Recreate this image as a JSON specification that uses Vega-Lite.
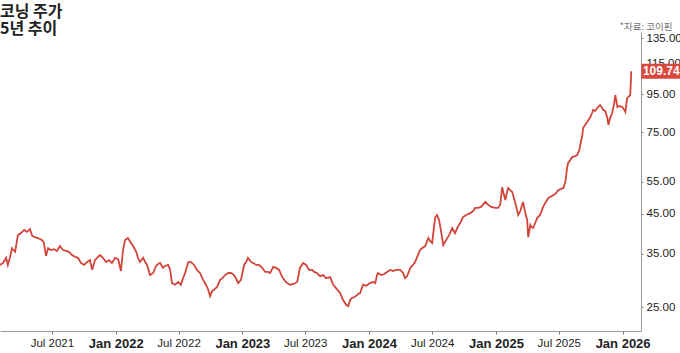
{
  "$schema": "https://vega.github.io/schema/vega-lite/v6.json",
  "width": 641,
  "height": 299,
  "autosize": {"type": "none"},
  "padding": {"left": 0, "top": 32, "right": 39, "bottom": 22},
  "background": "white",
  "config": {"view": {"stroke": null}, "font": "Liberation Sans"},
  "title": {
    "text": ["코닝 주가", "5년 추이"],
    "anchor": "start",
    "frame": "group",
    "font": "Noto Sans CJK KR",
    "fontSize": 16,
    "lineHeight": 17.5,
    "fontWeight": "bold",
    "color": "#222222",
    "baseline": "bottom",
    "offset": -32
  },
  "datasets": {
    "price": [
      {"date": "2021-02-01", "close": 32.6},
      {"date": "2021-02-10", "close": 33.0},
      {"date": "2021-02-19", "close": 34.1},
      {"date": "2021-02-24", "close": 32.6},
      {"date": "2021-03-02", "close": 34.1},
      {"date": "2021-03-08", "close": 36.2},
      {"date": "2021-03-17", "close": 35.4},
      {"date": "2021-03-25", "close": 39.3},
      {"date": "2021-04-03", "close": 39.8},
      {"date": "2021-04-12", "close": 40.6},
      {"date": "2021-04-20", "close": 40.1},
      {"date": "2021-04-29", "close": 40.8},
      {"date": "2021-05-05", "close": 39.1},
      {"date": "2021-05-13", "close": 38.8},
      {"date": "2021-05-22", "close": 38.6},
      {"date": "2021-06-03", "close": 38.1},
      {"date": "2021-06-08", "close": 37.4},
      {"date": "2021-06-14", "close": 34.5},
      {"date": "2021-06-20", "close": 36.2},
      {"date": "2021-06-28", "close": 35.8},
      {"date": "2021-07-07", "close": 36.0},
      {"date": "2021-07-16", "close": 35.6},
      {"date": "2021-07-24", "close": 36.7},
      {"date": "2021-08-02", "close": 35.8},
      {"date": "2021-08-11", "close": 35.6},
      {"date": "2021-08-19", "close": 35.4},
      {"date": "2021-08-28", "close": 34.7},
      {"date": "2021-09-06", "close": 34.3},
      {"date": "2021-09-14", "close": 34.1},
      {"date": "2021-09-23", "close": 33.0},
      {"date": "2021-10-02", "close": 32.6},
      {"date": "2021-10-10", "close": 33.2},
      {"date": "2021-10-19", "close": 33.6},
      {"date": "2021-10-25", "close": 31.6},
      {"date": "2021-11-02", "close": 33.6},
      {"date": "2021-11-11", "close": 34.3},
      {"date": "2021-11-17", "close": 34.7},
      {"date": "2021-11-25", "close": 34.1},
      {"date": "2021-12-04", "close": 33.2},
      {"date": "2021-12-13", "close": 33.6},
      {"date": "2021-12-21", "close": 33.0},
      {"date": "2021-12-30", "close": 34.1},
      {"date": "2022-01-08", "close": 33.8},
      {"date": "2022-01-16", "close": 31.4},
      {"date": "2022-01-22", "close": 35.8},
      {"date": "2022-01-28", "close": 38.1},
      {"date": "2022-02-05", "close": 38.6},
      {"date": "2022-02-14", "close": 37.4},
      {"date": "2022-02-20", "close": 36.7},
      {"date": "2022-03-01", "close": 35.4},
      {"date": "2022-03-06", "close": 34.1},
      {"date": "2022-03-12", "close": 33.2},
      {"date": "2022-03-21", "close": 34.1},
      {"date": "2022-03-27", "close": 33.2},
      {"date": "2022-04-01", "close": 32.6},
      {"date": "2022-04-10", "close": 30.6},
      {"date": "2022-04-19", "close": 31.0},
      {"date": "2022-04-27", "close": 32.4},
      {"date": "2022-05-03", "close": 32.8},
      {"date": "2022-05-09", "close": 33.0},
      {"date": "2022-05-17", "close": 32.0},
      {"date": "2022-05-23", "close": 32.4},
      {"date": "2022-06-01", "close": 32.6},
      {"date": "2022-06-07", "close": 31.6},
      {"date": "2022-06-12", "close": 29.1},
      {"date": "2022-06-21", "close": 28.8},
      {"date": "2022-06-30", "close": 29.3},
      {"date": "2022-07-08", "close": 28.8},
      {"date": "2022-07-14", "close": 30.0},
      {"date": "2022-07-20", "close": 31.0},
      {"date": "2022-07-29", "close": 33.2},
      {"date": "2022-08-06", "close": 33.2},
      {"date": "2022-08-15", "close": 32.6},
      {"date": "2022-08-23", "close": 31.6},
      {"date": "2022-09-01", "close": 31.0},
      {"date": "2022-09-10", "close": 29.7},
      {"date": "2022-09-18", "close": 28.8},
      {"date": "2022-09-24", "close": 28.0},
      {"date": "2022-09-30", "close": 26.8},
      {"date": "2022-10-06", "close": 27.7},
      {"date": "2022-10-11", "close": 27.9},
      {"date": "2022-10-20", "close": 28.4},
      {"date": "2022-10-29", "close": 29.7},
      {"date": "2022-11-04", "close": 30.0},
      {"date": "2022-11-12", "close": 30.6},
      {"date": "2022-11-21", "close": 31.0},
      {"date": "2022-11-29", "close": 31.0},
      {"date": "2022-12-08", "close": 30.6},
      {"date": "2022-12-14", "close": 29.9},
      {"date": "2022-12-20", "close": 29.1},
      {"date": "2022-12-28", "close": 29.7},
      {"date": "2023-01-06", "close": 32.6},
      {"date": "2023-01-12", "close": 33.2},
      {"date": "2023-01-17", "close": 34.1},
      {"date": "2023-01-26", "close": 33.2},
      {"date": "2023-02-01", "close": 33.0},
      {"date": "2023-02-10", "close": 32.6},
      {"date": "2023-02-18", "close": 32.6},
      {"date": "2023-02-27", "close": 32.0},
      {"date": "2023-03-08", "close": 31.2},
      {"date": "2023-03-16", "close": 31.2},
      {"date": "2023-03-22", "close": 31.0},
      {"date": "2023-03-31", "close": 32.2},
      {"date": "2023-04-08", "close": 32.0},
      {"date": "2023-04-17", "close": 31.6},
      {"date": "2023-04-26", "close": 30.2},
      {"date": "2023-05-04", "close": 29.5},
      {"date": "2023-05-10", "close": 29.1},
      {"date": "2023-05-19", "close": 28.8},
      {"date": "2023-05-27", "close": 28.9},
      {"date": "2023-06-08", "close": 29.3},
      {"date": "2023-06-16", "close": 32.0},
      {"date": "2023-06-25", "close": 33.0},
      {"date": "2023-07-04", "close": 32.6},
      {"date": "2023-07-12", "close": 31.6},
      {"date": "2023-07-21", "close": 31.6},
      {"date": "2023-07-27", "close": 31.2},
      {"date": "2023-08-04", "close": 31.0},
      {"date": "2023-08-13", "close": 30.4},
      {"date": "2023-08-22", "close": 30.6},
      {"date": "2023-08-30", "close": 30.0},
      {"date": "2023-09-11", "close": 30.2},
      {"date": "2023-09-20", "close": 28.8},
      {"date": "2023-09-28", "close": 28.2},
      {"date": "2023-10-10", "close": 27.3},
      {"date": "2023-10-18", "close": 26.2},
      {"date": "2023-10-27", "close": 25.4},
      {"date": "2023-11-02", "close": 25.2},
      {"date": "2023-11-08", "close": 26.2},
      {"date": "2023-11-13", "close": 26.5},
      {"date": "2023-11-22", "close": 26.7},
      {"date": "2023-12-01", "close": 27.2},
      {"date": "2023-12-06", "close": 27.3},
      {"date": "2023-12-15", "close": 28.8},
      {"date": "2023-12-24", "close": 28.6},
      {"date": "2024-01-04", "close": 29.1},
      {"date": "2024-01-13", "close": 29.3},
      {"date": "2024-01-19", "close": 29.1},
      {"date": "2024-01-24", "close": 30.6},
      {"date": "2024-01-27", "close": 31.0},
      {"date": "2024-02-05", "close": 30.6},
      {"date": "2024-02-14", "close": 30.8},
      {"date": "2024-02-22", "close": 31.2},
      {"date": "2024-03-02", "close": 31.6},
      {"date": "2024-03-11", "close": 31.4},
      {"date": "2024-03-19", "close": 31.6},
      {"date": "2024-03-31", "close": 31.6},
      {"date": "2024-04-08", "close": 31.0},
      {"date": "2024-04-14", "close": 30.0},
      {"date": "2024-04-20", "close": 30.4},
      {"date": "2024-04-29", "close": 32.0},
      {"date": "2024-05-04", "close": 32.4},
      {"date": "2024-05-13", "close": 33.2},
      {"date": "2024-05-22", "close": 34.9},
      {"date": "2024-05-27", "close": 35.8},
      {"date": "2024-06-02", "close": 36.2},
      {"date": "2024-06-11", "close": 36.7},
      {"date": "2024-06-20", "close": 38.6},
      {"date": "2024-06-25", "close": 37.9},
      {"date": "2024-07-01", "close": 37.4},
      {"date": "2024-07-07", "close": 41.9},
      {"date": "2024-07-10", "close": 44.0},
      {"date": "2024-07-15", "close": 44.6},
      {"date": "2024-07-21", "close": 43.2},
      {"date": "2024-07-27", "close": 40.1},
      {"date": "2024-08-02", "close": 36.9},
      {"date": "2024-08-10", "close": 38.1},
      {"date": "2024-08-19", "close": 39.3},
      {"date": "2024-08-28", "close": 41.1},
      {"date": "2024-09-05", "close": 39.8},
      {"date": "2024-09-14", "close": 41.6},
      {"date": "2024-09-20", "close": 42.4},
      {"date": "2024-09-28", "close": 44.0},
      {"date": "2024-10-07", "close": 44.6},
      {"date": "2024-10-19", "close": 45.1},
      {"date": "2024-10-27", "close": 45.7},
      {"date": "2024-11-02", "close": 46.6},
      {"date": "2024-11-11", "close": 46.6},
      {"date": "2024-11-19", "close": 46.9},
      {"date": "2024-12-01", "close": 48.4},
      {"date": "2024-12-10", "close": 47.5},
      {"date": "2024-12-18", "close": 46.9},
      {"date": "2024-12-30", "close": 46.6},
      {"date": "2025-01-07", "close": 46.6},
      {"date": "2025-01-13", "close": 47.5},
      {"date": "2025-01-19", "close": 53.1},
      {"date": "2025-01-22", "close": 51.5},
      {"date": "2025-01-28", "close": 49.0},
      {"date": "2025-02-02", "close": 51.5},
      {"date": "2025-02-05", "close": 52.8},
      {"date": "2025-02-11", "close": 52.1},
      {"date": "2025-02-17", "close": 51.5},
      {"date": "2025-02-25", "close": 48.4},
      {"date": "2025-03-06", "close": 44.6},
      {"date": "2025-03-12", "close": 45.7},
      {"date": "2025-03-20", "close": 48.4},
      {"date": "2025-03-26", "close": 45.4},
      {"date": "2025-04-01", "close": 43.2},
      {"date": "2025-04-04", "close": 38.8},
      {"date": "2025-04-10", "close": 41.9},
      {"date": "2025-04-13", "close": 41.4},
      {"date": "2025-04-18", "close": 41.1},
      {"date": "2025-04-24", "close": 42.4},
      {"date": "2025-04-30", "close": 43.8},
      {"date": "2025-05-08", "close": 44.6},
      {"date": "2025-05-17", "close": 46.9},
      {"date": "2025-05-23", "close": 48.1},
      {"date": "2025-06-01", "close": 49.6},
      {"date": "2025-06-06", "close": 49.9},
      {"date": "2025-06-15", "close": 50.5},
      {"date": "2025-06-24", "close": 51.2},
      {"date": "2025-06-29", "close": 52.1},
      {"date": "2025-07-08", "close": 52.5},
      {"date": "2025-07-14", "close": 52.8},
      {"date": "2025-07-20", "close": 54.8},
      {"date": "2025-07-25", "close": 59.9},
      {"date": "2025-07-28", "close": 61.8},
      {"date": "2025-08-03", "close": 62.9},
      {"date": "2025-08-09", "close": 64.1},
      {"date": "2025-08-17", "close": 64.5},
      {"date": "2025-08-23", "close": 64.9},
      {"date": "2025-08-29", "close": 67.0},
      {"date": "2025-09-01", "close": 69.1},
      {"date": "2025-09-07", "close": 73.6},
      {"date": "2025-09-09", "close": 76.9},
      {"date": "2025-09-15", "close": 78.4},
      {"date": "2025-09-21", "close": 79.9},
      {"date": "2025-09-30", "close": 82.4},
      {"date": "2025-10-05", "close": 84.5},
      {"date": "2025-10-08", "close": 86.1},
      {"date": "2025-10-14", "close": 85.6},
      {"date": "2025-10-20", "close": 87.2},
      {"date": "2025-10-28", "close": 88.8},
      {"date": "2025-11-03", "close": 87.2},
      {"date": "2025-11-06", "close": 86.1},
      {"date": "2025-11-12", "close": 85.6},
      {"date": "2025-11-18", "close": 81.9},
      {"date": "2025-11-21", "close": 78.4},
      {"date": "2025-11-26", "close": 81.9},
      {"date": "2025-12-02", "close": 84.5},
      {"date": "2025-12-08", "close": 90.0},
      {"date": "2025-12-11", "close": 94.6},
      {"date": "2025-12-17", "close": 87.7},
      {"date": "2025-12-22", "close": 88.3},
      {"date": "2025-12-31", "close": 87.7},
      {"date": "2026-01-06", "close": 86.1},
      {"date": "2026-01-09", "close": 85.0},
      {"date": "2026-01-14", "close": 92.8},
      {"date": "2026-01-17", "close": 93.4},
      {"date": "2026-01-23", "close": 94.6},
      {"date": "2026-01-26", "close": 109.74}
    ],
    "last": [
      {"date": "2026-01-26", "close": 109.74}
    ]
  },
  "layer": [
    {
      "data": {"name": "price"},
      "mark": {"type": "line", "color": "#d2453b", "strokeWidth": 1.8, "clip": true},
      "encoding": {
        "x": {
          "field": "date",
          "type": "temporal",
          "scale": {"domain": [{"year": 2021, "month": 2, "date": 1, "hours": 10}, {"year": 2026, "month": 2, "date": 23}]},
          "axis": {
            "title": null,
            "grid": false,
            "values": [
              {"year": 2021, "month": 7, "date": 1},
              {"year": 2022, "month": 1, "date": 1},
              {"year": 2022, "month": 7, "date": 1},
              {"year": 2023, "month": 1, "date": 1},
              {"year": 2023, "month": 7, "date": 1},
              {"year": 2024, "month": 1, "date": 1},
              {"year": 2024, "month": 7, "date": 1},
              {"year": 2025, "month": 1, "date": 1},
              {"year": 2025, "month": 7, "date": 1},
              {"year": 2026, "month": 1, "date": 1}
            ],
            "format": "%b %Y",
            "labelFont": "Liberation Sans",
            "labelFontSize": {"condition": {"test": "month(datum.value) === 0", "value": 13}, "value": 11.5},
            "labelFontWeight": {"condition": {"test": "month(datum.value) === 0", "value": "bold"}, "value": "normal"},
            "labelColor": "#222222",
            "labelFlush": false,
            "labelOverlap": false,
            "labelPadding": 3,
            "tickSize": 3,
            "tickColor": "#777777",
            "domainColor": "#999999"
          }
        },
        "y": {
          "field": "close",
          "type": "quantitative",
          "scale": {"type": "log", "domain": [21.55, 140.4], "nice": false, "zero": false},
          "axis": {
            "orient": "right",
            "grid": false,
            "values": [25, 35, 45, 55, 75, 95, 115, 135],
            "format": ".2f",
            "labelFont": "Liberation Sans",
            "labelFontSize": 11.5,
            "labelColor": "#222222",
            "labelPadding": 3,
            "tickSize": 2,
            "tickColor": "#777777",
            "domainColor": "#999999",
            "title": "*자료: 코이핀",
            "titleFont": "Noto Sans CJK KR",
            "titleFontSize": 9.5,
            "titleFontWeight": "normal",
            "titleColor": "#777777",
            "titleAngle": 0,
            "titleAlign": "right",
            "titleBaseline": "middle",
            "titleX": 31,
            "titleY": -6
          }
        }
      }
    },
    {
      "data": {"name": "last"},
      "mark": {"type": "rect", "color": "#d9473d", "xOffset": 10, "x2Offset": 49, "yOffset": -7.5, "y2Offset": 7.5},
      "encoding": {
        "x": {"field": "date", "type": "temporal"},
        "x2": {"field": "date"},
        "y": {"field": "close", "type": "quantitative"},
        "y2": {"field": "close"}
      }
    },
    {
      "data": {"name": "last"},
      "mark": {"type": "text", "color": "white", "font": "Liberation Sans", "fontWeight": "bold", "fontSize": 12, "xOffset": 30, "align": "center", "baseline": "middle"},
      "encoding": {
        "x": {"field": "date", "type": "temporal"},
        "y": {"field": "close", "type": "quantitative"},
        "text": {"field": "close", "type": "quantitative", "format": ".2f"}
      }
    }
  ]
}
